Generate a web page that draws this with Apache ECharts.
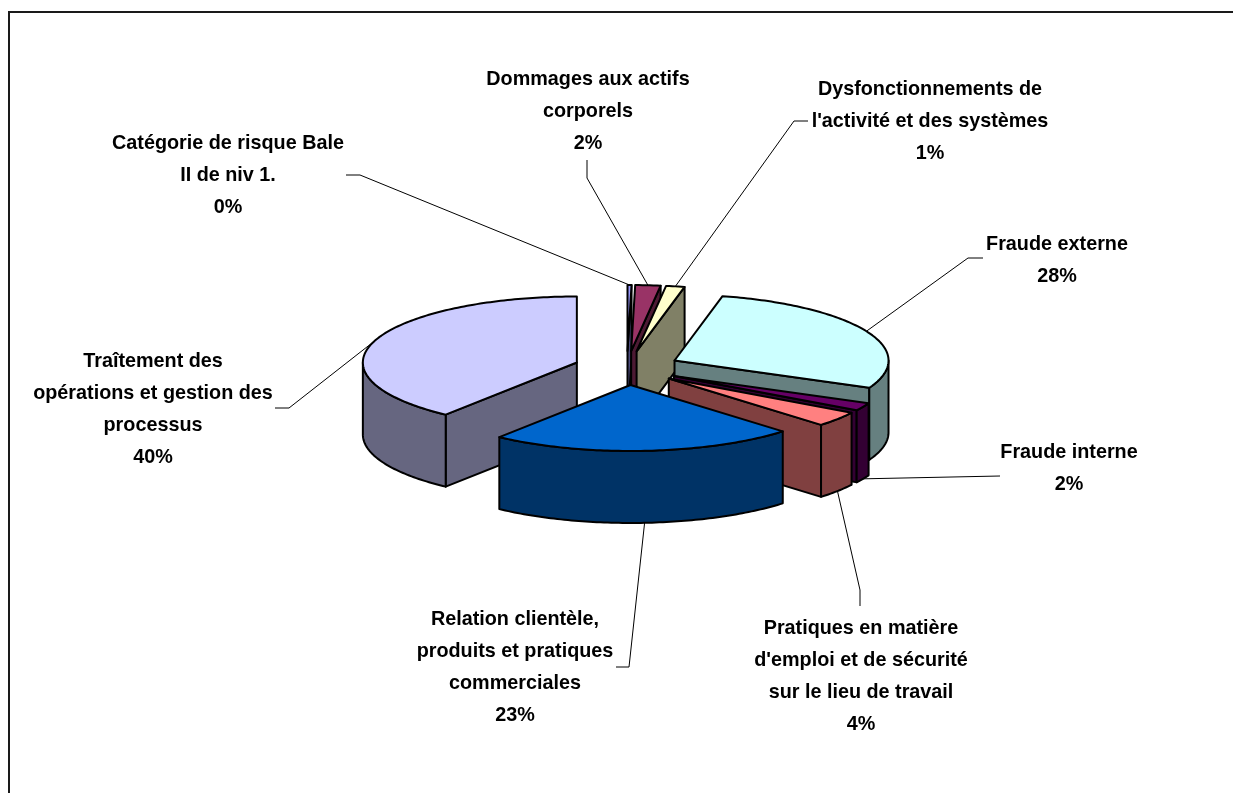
<!DOCTYPE html>
<html>
<head>
<meta charset="utf-8">
<title>Catégories de risque Bale II</title>
<style>
    html, body { margin: 0; padding: 0; background: #fff; }
    #pie3d { width: 1233px; height: 793px; }
</style>
<script src="https://cdn.jsdelivr.net/npm/echarts@6/dist/echarts.min.js"></script>
</head>
<body>
<div id="pie3d"></div>
<script>
// categories, clockwise from the top of the pie
var categories = [
    'Catégorie de risque Bale\nII de niv 1.',
    'Dommages aux actifs\ncorporels',
    "Dysfonctionnements de\nl'activité et des systèmes",
    'Fraude externe',
    'Fraude interne',
    "Pratiques en matière\nd'emploi et de sécurité\nsur le lieu de travail",
    'Relation clientèle,\nproduits et pratiques\ncommerciales',
    'Traîtement des\nopérations et gestion des\nprocessus'
];
var values = [0.3, 1.9, 1.4, 28.2, 1.9, 3.7, 23.1, 39.5];

var topColors = ['#9999FF', '#993366', '#FFFFCC', '#CCFFFF', '#660066', '#FF8080', '#0066CC', '#CCCCFF'];
var sideColors = ['#4D4D80', '#4D1A33', '#808066', '#668080', '#330033', '#804040', '#003366', '#666680'];

// label block centres
var labelX = [228, 588, 930, 1057, 1069, 861, 515, 153];
var labelY = [176, 112, 122, 261, 469, 677, 668, 410];

// leader line elbows: label end, then the bend if there is one
var leaderElbows = [
    [[346, 175], [360, 175]],
    [[587, 160], [587, 178]],
    [[808, 121], [794, 121]],
    [[983, 258], [968, 258]],
    [[1000, 476]],
    [[860, 606], [860, 590]],
    [[616, 667], [629, 667]],
    [[275, 408], [289, 408]]
];
// which leaders land on the bottom edge of the wall
var leaderOnWall = [false, false, false, false, true, true, true, false];

// pie geometry
var cx = 627, cy = 368, rx = 214, ry = 66, depth = 72;
var explodeX = 53, explodeY = 17;
var textFont = 'bold 19.8px "Liberation Sans", Arial, sans-serif';

(function () {

    var pie3d = echarts.init(document.getElementById('pie3d'));

    var total = values.reduce(function (a, b) { return a + b; }, 0);
    var slices = [];
    var acc = 0;
    values.forEach(function (v) {
        var a1 = acc / total * 360;
        acc += v;
        var a2 = acc / total * 360;
        var mid = (a1 + a2) / 2 * Math.PI / 180;
        slices.push({
            a1: a1,
            a2: a2,
            mid: (a1 + a2) / 2,
            ox: cx + Math.sin(mid) * explodeX,
            oy: cy - Math.cos(mid) * explodeY
        });
    });

    // back slices get painted first
    var order = slices.map(function (s, i) { return i; }).sort(function (a, b) {
        return -Math.cos(slices[a].mid * Math.PI / 180) + Math.cos(slices[b].mid * Math.PI / 180);
    });

    function rim(s, angle, drop) {
        var r = angle * Math.PI / 180;
        return [s.ox + Math.sin(r) * rx, s.oy - Math.cos(r) * ry + (drop || 0)];
    }

    function arc(s, from, to, drop) {
        var pts = [];
        var n = Math.max(2, Math.ceil(Math.abs(to - from)));
        for (var i = 0; i <= n; i++) {
            pts.push(rim(s, from + (to - from) * i / n, drop));
        }
        return pts;
    }

    function poly(points, fill, z2) {
        return {
            type: 'polygon',
            z2: z2,
            shape: { points: points },
            style: { fill: fill, stroke: '#000', lineWidth: 2, lineJoin: 'round' }
        };
    }

    function cutFace(s, angle, fill, z2) {
        var p = rim(s, angle);
        return poly([[s.ox, s.oy], p, [p[0], p[1] + depth], [s.ox, s.oy + depth]], fill, z2);
    }

    function renderSlice(params, api) {
        var i = params.dataIndex;
        var s = slices[i];
        var rank = order.indexOf(i) * 10 + 1;
        var kids = [];

        // cut faces turned to the viewer
        if (Math.sin(s.a2 * Math.PI / 180) > 0) {
            kids.push(cutFace(s, s.a2, sideColors[i], rank));
        }
        if (Math.sin(s.a1 * Math.PI / 180) < 0) {
            kids.push(cutFace(s, s.a1, sideColors[i], rank));
        }

        // outer wall, front half only
        var w1 = Math.max(s.a1, 90), w2 = Math.min(s.a2, 270);
        if (w2 > w1) {
            kids.push(poly(
                arc(s, w1, w2, 0).concat(arc(s, w2, w1, depth)),
                sideColors[i],
                rank + 1
            ));
        }

        // top face
        kids.push(poly([[s.ox, s.oy]].concat(arc(s, s.a1, s.a2, 0)), topColors[i], rank + 2));

        // leader line from the slice edge out to its label
        var end = rim(s, s.mid, leaderOnWall[i] ? depth : 0);
        kids.push({
            type: 'polyline',
            z2: 100,
            shape: { points: leaderElbows[i].concat([end]) },
            style: { fill: 'none', stroke: '#000', lineWidth: 1 }
        });

        // label
        kids.push({
            type: 'text',
            z2: 101,
            style: {
                text: categories[i] + '\n' + Math.round(api.value(0)) + '%',
                x: labelX[i],
                y: labelY[i],
                align: 'center',
                verticalAlign: 'middle',
                lineHeight: 32,
                font: textFont,
                fill: '#000'
            }
        });

        return { type: 'group', children: kids };
    }

    var option = {
        backgroundColor: '#fff',
        animation: false,
        graphic: [{
            type: 'polyline',
            silent: true,
            shape: { points: [[9, 793], [9, 12], [1233, 12]] },
            style: { fill: 'none', stroke: '#1a1a1a', lineWidth: 2 }
        }],
        series: [{
            type: 'custom',
            coordinateSystem: 'none',
            silent: true,
            renderItem: renderSlice,
            data: values
        }]
    };

    pie3d.setOption(option);
})();
</script>
</body>
</html>
